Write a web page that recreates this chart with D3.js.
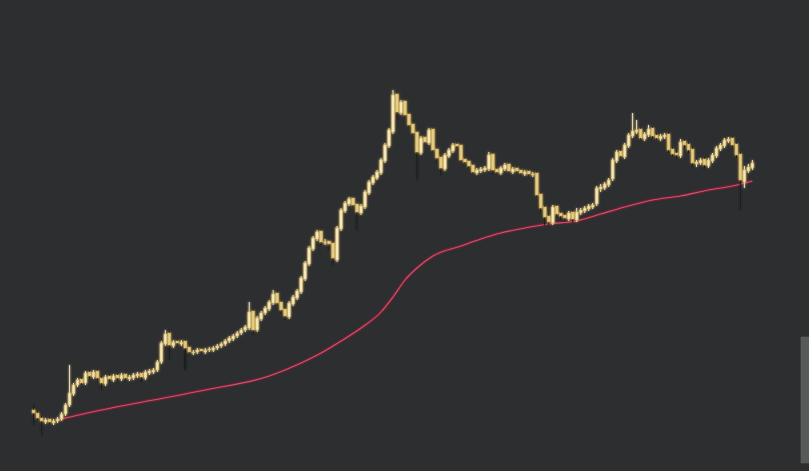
<!DOCTYPE html>
<html>
<head>
<meta charset="utf-8">
<script src="https://cdn.jsdelivr.net/npm/d3@7"></script>
<style>
html,body{margin:0;padding:0;background:#2d2e30;overflow:hidden;}
svg{display:block;}
</style>
</head>
<body>
<svg id="chart" width="809" height="471"></svg>
<script>
const opens = [40,37,32,28,31,27,29,31,36,45,56,65,71,67,78,73,79,72,66,74,70,75,71,76,71,72,74,77,72,77,78,80,88,106,117,104,109,106,109,103,97,98,101,98,100,100,102,104,106,109,111,114,117,120,122,139,120,131,137,141,147,157,148,141,133,146,152,158,171,186,201,211,219,207,209,207,190,221,239,246,252,246,237,243,257,267,272,277,289,304,318,356,337,349,336,326,318,297,313,307,321,301,293,281,294,299,306,305,291,289,285,277,279,280,281,296,281,277,281,286,278,282,280,276,279,275,277,256,243,234,227,244,237,235,231,238,230,237,239,241,243,246,261,262,265,271,289,299,293,304,314,318,321,311,315,322,315,311,313,316,301,297,294,309,306,301,286,287,291,284,289,294,301,304,309,312,306,296,268,279,282];
const closes = [37,32,29,30,28,29,31,36,45,57,65,70,67,77,74,78,72,67,73,71,74,72,75,72,73,75,76,73,78,79,80,88,107,116,105,108,107,108,102,98,98,100,99,100,101,102,104,106,109,112,114,117,120,123,138,120,132,137,142,148,156,147,140,134,147,153,159,172,187,202,212,218,208,208,206,192,222,240,247,251,245,238,244,258,268,273,278,290,305,320,355,338,348,335,325,317,298,312,308,320,300,292,282,295,300,305,304,290,288,284,278,280,281,282,295,280,278,282,285,279,281,279,277,278,276,276,255,242,233,228,243,236,234,232,237,231,238,240,242,244,245,262,263,266,270,290,298,294,305,315,319,320,312,316,321,314,312,314,315,300,296,295,308,305,300,287,288,290,285,290,295,302,305,310,311,305,295,270,280,283,287];
const highs = [45,39,34,32,33,31,33,38,47,85,67,72,73,79,80,80,81,74,75,76,76,77,77,78,75,77,78,79,80,81,82,90,109,120,119,110,111,110,111,105,100,102,103,102,103,104,106,108,111,114,116,119,122,125,148,141,134,139,144,150,160,159,150,143,149,155,161,174,189,204,214,220,221,211,211,209,224,242,249,253,254,248,246,260,270,275,280,292,307,322,360,358,350,351,338,328,320,314,315,322,323,303,295,297,302,307,308,307,293,291,287,282,283,284,298,298,283,284,287,288,283,284,282,280,281,278,279,258,245,236,245,246,239,237,239,240,242,242,244,246,247,264,266,268,272,292,300,301,307,317,337,330,323,318,325,324,317,316,317,318,303,299,311,311,308,303,290,292,293,292,297,304,307,312,313,314,308,298,284,286,290];
const lows = [25,30,15,26,26,25,27,29,34,43,54,63,65,65,72,71,70,60,64,69,68,70,69,70,69,70,72,68,70,75,76,78,86,104,90,102,105,104,80,96,95,96,97,96,98,98,100,102,104,107,109,112,115,118,120,116,118,129,135,139,145,145,136,130,131,144,150,156,169,184,199,209,205,205,200,185,188,219,237,244,243,220,235,241,255,265,270,275,287,302,316,330,335,333,323,315,270,295,306,305,298,288,275,279,292,297,302,288,286,282,276,275,277,278,279,276,276,275,279,277,276,277,275,274,274,273,253,238,225,225,225,232,230,229,229,228,228,235,237,239,241,244,258,260,263,269,287,292,291,302,312,316,310,309,313,312,310,309,311,297,294,292,292,302,297,284,283,285,282,282,287,292,299,302,307,303,292,240,262,277,280];
const maIndex = [6,17,30,43,59,67,72,77,82,87,90,93,96,100,107,112,117,123,129,136,142,148,155,162,169,175,180];
const maValues = [30,40,50,60,74,87,97,109,122,138,153,170,182,194,204,211,217,222,226,229,236,243,250,254,260,264,269];

const W = 809, H = 471;
const svg = d3.select("#chart");
svg.append("rect").attr("width", W).attr("height", H).attr("fill", "#2d2e30");

const idx = d3.range(opens.length);
const x = d3.scaleBand().domain(idx).range([31, 755]).padding(0.3);
const y = d3.scaleLinear().domain([0, 400]).range([450, 50]);

const defs = svg.append("defs");
const glow = defs.append("filter").attr("id", "glow").attr("x", "-50%").attr("y", "-50%").attr("width", "200%").attr("height", "200%");
glow.append("feGaussianBlur").attr("stdDeviation", 1.3).attr("result", "b");
const m = glow.append("feMerge");
m.append("feMergeNode").attr("in", "b");
m.append("feMergeNode").attr("in", "SourceGraphic");

// moving average
const maLine = d3.line()
  .x((d, i) => x(maIndex[i]) + x.bandwidth() / 2)
  .y(d => y(d))
  .curve(d3.curveMonotoneX);
svg.append("path").datum(maValues).attr("d", maLine)
  .attr("fill", "none").attr("stroke", "#6e2233").attr("stroke-width", 3.4).attr("opacity", 0.95);
svg.append("path").datum(maValues).attr("d", maLine)
  .attr("fill", "none").attr("stroke", "#c8566f").attr("stroke-width", 1.1);

// candles
const g = svg.append("g").attr("filter", "url(#glow)");
const candles = g.selectAll("g.c").data(idx).join("g").attr("class", "c");
candles.append("line")
  .attr("x1", i => x(i) + x.bandwidth() / 2)
  .attr("x2", i => x(i) + x.bandwidth() / 2)
  .attr("y1", i => y(highs[i]))
  .attr("y2", i => y(lows[i]))
  .attr("stroke", i => closes[i] >= opens[i] ? "#ece0ad" : "#1c1c1c")
  .attr("stroke-width", 1);
candles.append("rect")
  .attr("x", i => x(i))
  .attr("width", x.bandwidth())
  .attr("y", i => y(Math.max(opens[i], closes[i])))
  .attr("height", i => Math.max(1, Math.abs(y(opens[i]) - y(closes[i]))))
  .attr("fill", i => closes[i] >= opens[i] ? "#f3e9bf" : "#e3cc86")
  .attr("stroke", "#d2a846")
  .attr("stroke-width", 0.5);

// scrollbar
svg.append("rect").attr("x", 801).attr("y", 337).attr("width", 8).attr("height", 126)
  .attr("fill", "#57585a").attr("stroke", "#626365").attr("stroke-width", 0.5);
</script>
</body>
</html>
